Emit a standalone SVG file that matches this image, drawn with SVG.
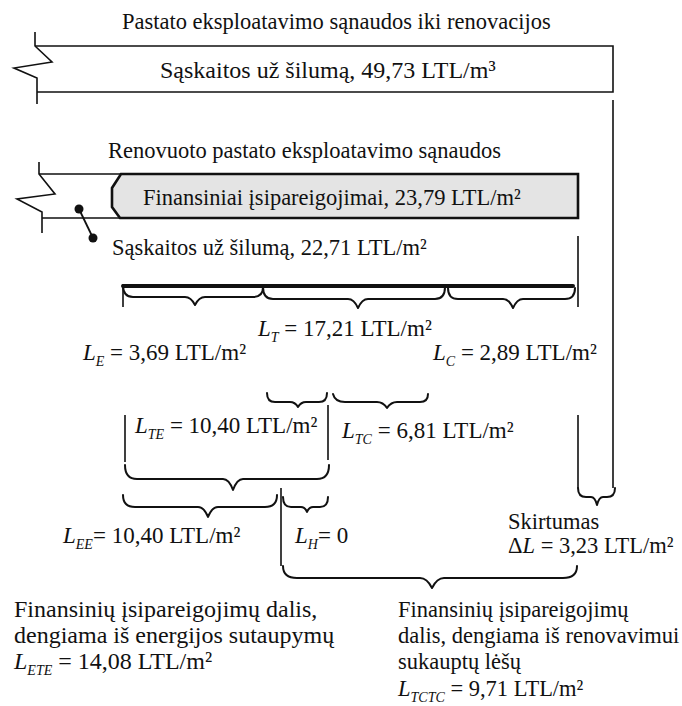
<svg xmlns="http://www.w3.org/2000/svg" width="682" height="706" viewBox="0 0 682 706" font-family="'Liberation Serif', 'Times New Roman', serif" font-size="22.5">
<style>
.t{font-family:'Liberation Serif','Times New Roman',serif;font-size:22.5px;fill:#111}
.lb{font-size:23px}
.bl{font-size:24px}
.bx{font-size:22.5px}
.i{font-style:italic}
.s{font-style:italic;font-size:14px}
.ln{fill:none;stroke:#111;stroke-width:1.6}
.br{fill:none;stroke:#111;stroke-width:2;stroke-linejoin:round;stroke-linecap:round}
</style>
<rect width="682" height="706" fill="#fff"/>
<g id="before" class="t">
<text x="122" y="29">Pastato eksploatavimo sąnaudos iki renovacijos</text>
<path class="ln" d="M35,32 V46 L52,62 L14,68 L37,78 V104"/>
<path class="ln" d="M35,46 H613 V92 H37"/>
<text x="160" y="78" style="font-size:24px">Sąskaitos už šilumą, 49,73 LTL/m³</text>
</g>
<g id="after" class="t">
<text x="108" y="158">Renovuoto pastato eksploatavimo sąnaudos</text>
<path class="ln" d="M39,162 V174 L55,194 L17,199 L42,212 V233"/>
<path class="ln" d="M39,174 H121 M42,218 H120"/>
<path d="M121,174 H578 V218 H120 L112,207 V188 Z" fill="#e4e4e4" stroke="#111" stroke-width="2.6"/>
<text x="143" y="205">Finansiniai įsipareigojimai, 23,79 LTL/m²</text>
<g id="switch">
<line x1="79" y1="209" x2="93" y2="238" stroke="#111" stroke-width="1.8"/>
<circle cx="79" cy="209" r="4.5" fill="#111"/>
<circle cx="93" cy="238" r="4.5" fill="#111"/>
</g>
<text x="112" y="255">Sąskaitos už šilumą, 22,71 LTL/m²</text>
</g>
<g id="connectors">
<line x1="123" y1="286" x2="573" y2="286" stroke="#111" stroke-width="4" stroke-linecap="round"/>
<path class="ln" d="M613,100 V488 M578,236 V307 M123,285 V307 M125,415 V462 M328,405 V460 M578,415 V488 M281,488 V566"/>
<path class="br" d="M123,285 Q123,297 133,297 H185 Q191,297 195,305 Q199,297 205,297 H253 Q263,297 263,287"/>
<path class="br" d="M263,287 Q263,299 273,299 H348 Q354,299 358,308 Q362,299 368,299 H435 Q445,299 445,287"/>
<path class="br" d="M448,288 Q448,299 458,299 H503 Q509,299 513,308 Q517,299 523,299 H565 Q575,299 575,288"/>
<path class="br" d="M267,393 Q267,402 275,402 H290 Q295,402 298,407 Q301,402 306,402 H319 Q327,402 327,393"/>
<path class="br" d="M333,394 Q335,402 345,402 H377 Q383,402 387,408 Q391,402 397,402 H420 Q428,402 428,394"/>
<path class="br" d="M125,465 Q125,479 137,479 H223 Q229,479 233,490 Q237,479 243,479 H317 Q329,479 329,465"/>
<path class="br" d="M123,495 Q123,507 135,507 H198 Q204,507 208,517 Q212,507 218,507 H265 Q277,507 277,495"/>
<path class="br" d="M283,497 Q283,507 291,507 H301 Q305,507 307,512 Q309,507 313,507 H320 Q328,507 328,497"/>
<path class="br" d="M578,488 Q578,497 586,497 H591 Q595,497 597,505 Q599,497 603,497 H607 Q615,497 615,488"/>
<path class="br" d="M283,566 Q283,578 297,578 H420 Q427,578 432,588 Q437,578 444,578 H563 Q577,578 577,566"/>
</g>
<g id="labels" class="t lb">
<text x="258" y="336"><tspan class="i">L</tspan><tspan class="s" dy="6">T</tspan><tspan dy="-6"> = 17,21 LTL/m²</tspan></text>
<text x="83" y="360"><tspan class="i">L</tspan><tspan class="s" dy="6">E</tspan><tspan dy="-6"> = 3,69 LTL/m²</tspan></text>
<text x="433" y="360"><tspan class="i">L</tspan><tspan class="s" dy="6">C</tspan><tspan dy="-6"> = 2,89 LTL/m²</tspan></text>
<text x="135" y="433"><tspan class="i">L</tspan><tspan class="s" dy="6">TE</tspan><tspan dy="-6"> = 10,40 LTL/m²</tspan></text>
<text x="342" y="438"><tspan class="i">L</tspan><tspan class="s" dy="6">TC</tspan><tspan dy="-6"> = 6,81 LTL/m²</tspan></text>
<text x="63" y="543"><tspan class="i">L</tspan><tspan class="s" dy="6">EE</tspan><tspan dy="-6">= 10,40 LTL/m²</tspan></text>
<text x="295" y="543"><tspan class="i">L</tspan><tspan class="s" dy="6">H</tspan><tspan dy="-6">= 0</tspan></text>
<text x="508" y="529" style="font-size:22.5px">Skirtumas</text>
<text x="508" y="553" style="font-size:22.5px">Δ<tspan class="i">L</tspan> = 3,23 LTL/m²</text>
</g>
<g id="bottom-left" class="t bl">
<text x="14" y="617">Finansinių įsipareigojimų dalis,</text>
<text x="14" y="643">dengiama iš energijos sutaupymų</text>
<text x="14" y="669"><tspan class="i">L</tspan><tspan class="s" dy="6">ETE</tspan><tspan dy="-6"> = 14,08 LTL/m²</tspan></text>
</g>
<g id="bottom-right" class="t bx">
<text x="398" y="617">Finansinių įsipareigojimų</text>
<text x="398" y="643">dalis, dengiama iš renovavimui</text>
<text x="398" y="669">sukauptų lėšų</text>
<text x="398" y="696"><tspan class="i">L</tspan><tspan class="s" dy="6">TCTC</tspan><tspan dy="-6"> = 9,71 LTL/m²</tspan></text>
</g>
</svg>
